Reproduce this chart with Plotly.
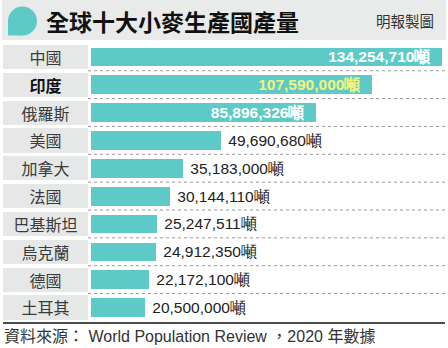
import plotly.graph_objects as go

# Top ten wheat producing countries, tonnes (2020)
countries = ["中國", "印度", "俄羅斯", "美國", "加拿大", "法國", "巴基斯坦", "烏克蘭", "德國", "土耳其"]
tonnes = [134254710, 107590000, 85896326, 49690680, 35183000, 30144110, 25247511, 24912350, 22172100, 20500000]
unit = "噸"

title_text = "全球十大小麥生產國產量"
credit_text = "明報製圖"
source_text = "資料來源： World Population Review ，2020 年數據"

W, H = 448, 348
TEAL = "#5ecac7"
LABEL_BG = "#e6e8e8"
HEADER_BG = "#e9ebeb"
CJK = "Noto Sans CJK TC"
NUM = "Liberation Sans, Arial, sans-serif"
NBSP = "\u00a0"


def px(x):
    return x / W


def py(y):
    return 1 - y / H


n = len(countries)

# value labels: top three inside the bar, others outside
texts, positions, colors = [], [], []
for i, v in enumerate(tonnes):
    s = f"{v:,}{unit}"
    if i < 3:
        texts.append(f"<b>{s}</b>" + NBSP * 2)
        positions.append("inside")
        colors.append("#f4f27e" if i == 1 else "white")
    else:
        texts.append(NBSP + s)
        positions.append("outside")
        colors.append("#222222")

label_texts = [f"<b>{c}</b>" if i == 1 else c for i, c in enumerate(countries)]
label_colors = ["#111111" if i == 1 else "#3a3a3a" for i in range(n)]

fig = go.Figure()

# country name boxes (left column)
fig.add_trace(go.Bar(
    y=countries, x=[1] * n, orientation="h",
    xaxis="x2", yaxis="y",
    marker=dict(color=LABEL_BG, line=dict(width=0)),
    width=0.87,
    text=label_texts, textposition="inside", insidetextanchor="middle",
    textfont=dict(family=CJK, size=16, color=label_colors),
    constraintext="none", hoverinfo="skip", showlegend=False,
))

# production bars
fig.add_trace(go.Bar(
    y=countries, x=tonnes, orientation="h",
    xaxis="x", yaxis="y",
    marker=dict(color=TEAL, line=dict(width=0)),
    width=0.67,
    text=texts, textposition=positions, insidetextanchor="end",
    textfont=dict(family=NUM, size=15.5, color=colors),
    cliponaxis=False, constraintext="none", showlegend=False,
))

y_top, y_bot = 42.9, 321.4
x_max = 134254710 * (W - 91) / 351

fig.update_layout(
    width=W, height=H,
    margin=dict(l=0, r=0, t=0, b=0),
    paper_bgcolor="white", plot_bgcolor="rgba(0,0,0,0)",
    bargap=0,
    xaxis=dict(domain=[px(91), 1], range=[0, x_max], visible=False, fixedrange=True),
    xaxis2=dict(domain=[px(3), px(88)], range=[0, 1], visible=False, anchor="y"),
    yaxis=dict(domain=[py(y_bot), py(y_top)], categoryorder="array", categoryarray=countries,
               range=[n - 0.5, -0.5], visible=False),
    font=dict(family=CJK),
)

shapes = []
# header band
shapes.append(dict(type="rect", xref="paper", yref="paper", x0=px(2), x1=px(446), y0=py(40), y1=py(0),
                   fillcolor=HEADER_BG, line=dict(width=0), layer="below"))
# speech-bubble marker
shapes.append(dict(type="circle", xref="paper", yref="paper", xsizemode="pixel", ysizemode="pixel",
                   xanchor=px(22.5), yanchor=py(21), x0=-14.5, x1=14.5, y0=-14.5, y1=14.5,
                   fillcolor=TEAL, line=dict(width=0)))
shapes.append(dict(type="rect", xref="paper", yref="paper", xsizemode="pixel", ysizemode="pixel",
                   xanchor=px(22.5), yanchor=py(21), x0=-14.5, x1=0, y0=-14.5, y1=0,
                   fillcolor=TEAL, line=dict(width=0)))
# dotted row separators
for i in range(n - 1):
    shapes.append(dict(type="line", xref="paper", yref="y", x0=px(88), x1=1, y0=i + 0.5, y1=i + 0.5,
                       line=dict(color="#9a9a9a", width=1, dash="dot")))
# footer rule
shapes.append(dict(type="line", xref="paper", yref="paper", x0=px(3), x1=px(445), y0=py(323), y1=py(323),
                   line=dict(color="#111111", width=1.5)))
fig.update_layout(shapes=shapes)

fig.add_annotation(text=f"<b>{title_text}</b>", xref="paper", yref="paper", x=px(44), y=py(21),
                   xanchor="left", yanchor="middle", showarrow=False,
                   font=dict(family=CJK, size=23, color="#111111"))
fig.add_annotation(text=credit_text, xref="paper", yref="paper", x=px(436), y=py(21),
                   xanchor="right", yanchor="middle", showarrow=False,
                   font=dict(family=CJK, size=14.5, color="#333333"))
fig.add_annotation(text=source_text, xref="paper", yref="paper", x=px(2), y=py(336),
                   xanchor="left", yanchor="middle", showarrow=False,
                   font=dict(family="Liberation Sans, " + CJK, size=16, color="#333333"))

fig.write_html("out.html", config={"displayModeBar": False})
